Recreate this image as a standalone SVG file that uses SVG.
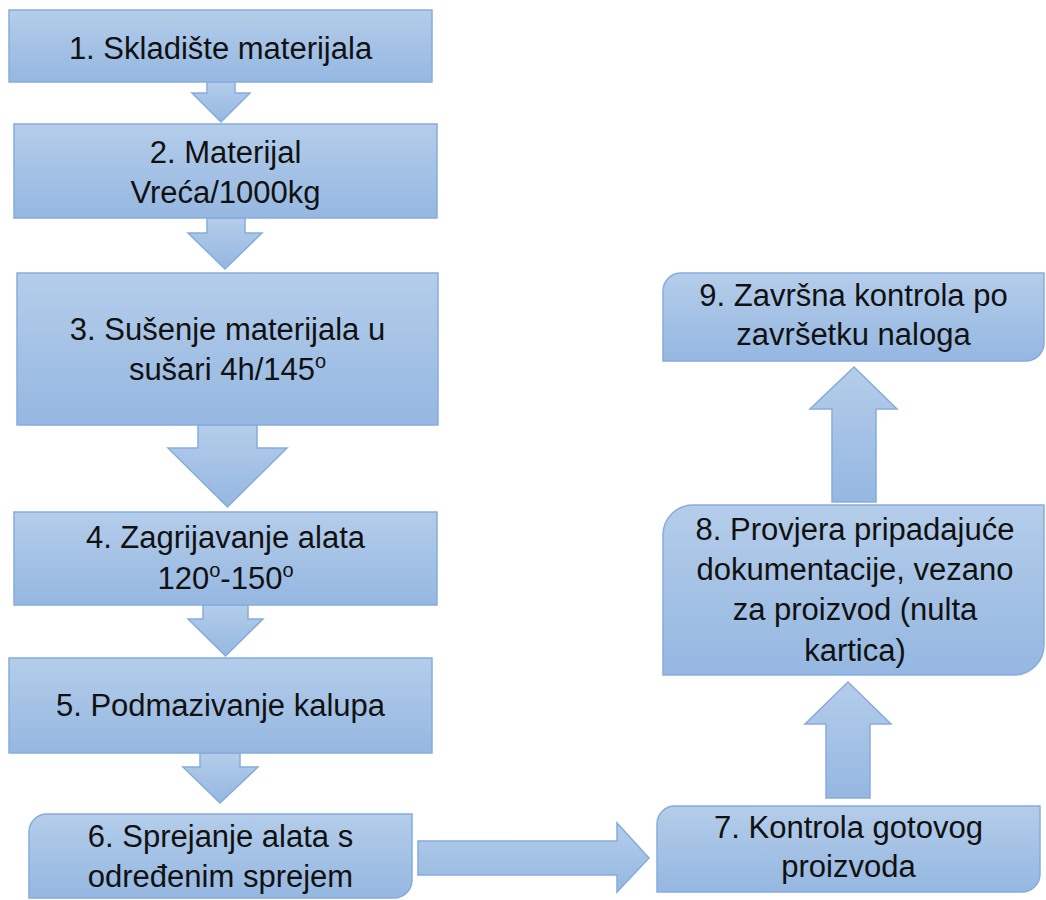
<svg xmlns="http://www.w3.org/2000/svg" width="1046" height="900" viewBox="0 0 1046 900">
<defs>
<linearGradient id="g" x1="0" y1="0" x2="0" y2="1">
<stop offset="0" stop-color="#b4cdea"/>
<stop offset="1" stop-color="#95b7e1"/>
</linearGradient>
<style>
.s{fill:url(#g);stroke:#86acdb;stroke-width:1.5}
.t{font-family:"Liberation Sans",Arial,sans-serif;font-size:31px;fill:#111;text-anchor:middle}
.sup{font-size:20px}
</style>
</defs>
<rect width="1046" height="900" fill="#fff"/>
<g id="connectors">
<polygon class="s" points="207,82 235,82 235,93 250,93 221,122 192,93 207,93"/>
<polygon class="s" points="207,218 245,218 245,233 262,233 225,269 188,233 207,233"/>
<polygon class="s" points="198,425 257,425 257,448 287,448 227.5,507 168,448 198,448"/>
<polygon class="s" points="203,605 248,605 248,619 263,619 225.5,656 188,619 203,619"/>
<polygon class="s" points="200,753 240,753 240,767 258,767 220,803 183,767 200,767"/>
<polygon class="s" points="418,841 617,841 617,823 649,858 617,892 617,875 418,875"/>
<polygon class="s" points="826,798 826,724 805,724 848,682 891,724 870,724 870,798"/>
<polygon class="s" points="832,502 832,409 810,409 854,367 897,409 876,409 876,502"/>
</g>
<g id="n1"><rect class="s" x="9" y="10" width="423" height="72"/>
<text class="t" x="220.5" y="59">1. Skladište materijala</text></g>
<g id="n2"><rect class="s" x="14" y="124" width="423" height="94"/>
<text class="t" x="225.5" y="163">2. Materijal</text>
<text class="t" x="225.5" y="203">Vreća/1000kg</text></g>
<g id="n3"><rect class="s" x="17" y="273" width="421" height="152"/>
<text class="t" x="227.5" y="340">3. Sušenje materijala u</text>
<text class="t" x="227.5" y="380">sušari 4h/145<tspan class="sup" dy="-12">o</tspan></text></g>
<g id="n4"><rect class="s" x="14" y="512" width="423" height="93"/>
<text class="t" x="225.5" y="548">4. Zagrijavanje alata</text>
<text class="t" x="225.5" y="589">120<tspan class="sup" dy="-12">o</tspan><tspan dy="12">-150</tspan><tspan class="sup" dy="-12">o</tspan></text></g>
<g id="n5"><rect class="s" x="9" y="658" width="423" height="95"/>
<text class="t" x="220.5" y="716">5. Podmazivanje kalupa</text></g>
<g id="n6"><path class="s" d="M47,814 H412 V880 A18,18 0 0 1 394,898 H29 V832 A18,18 0 0 1 47,814 Z"/>
<text class="t" x="220.5" y="847">6. Sprejanje alata s</text>
<text class="t" x="220.5" y="887">određenim sprejem</text></g>
<g id="n7"><path class="s" d="M675,806 H1040 V874 A18,18 0 0 1 1022,892 H657 V824 A18,18 0 0 1 675,806 Z"/>
<text class="t" x="848.5" y="838">7. Kontrola gotovog</text>
<text class="t" x="848.5" y="877">proizvoda</text></g>
<g id="n8"><path class="s" d="M693,505 H1044 V645 A30,30 0 0 1 1014,675 H663 V535 A30,30 0 0 1 693,505 Z"/>
<text class="t" x="855" y="540">8. Provjera pripadajuće</text>
<text class="t" x="855" y="580">dokumentacije, vezano</text>
<text class="t" x="855" y="620">za proizvod (nulta</text>
<text class="t" x="855" y="661">kartica)</text></g>
<g id="n9"><path class="s" d="M681,273 H1044 V343 A18,18 0 0 1 1026,361 H663 V291 A18,18 0 0 1 681,273 Z"/>
<text class="t" x="853.5" y="306">9. Završna kontrola po</text>
<text class="t" x="853.5" y="345">završetku naloga</text></g>
</svg>
